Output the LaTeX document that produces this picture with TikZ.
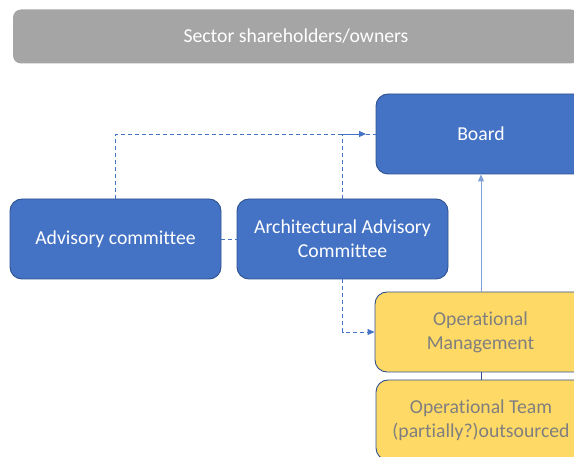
\documentclass[tikz,border=0pt]{standalone}
\usepackage{fontspec}
\setmainfont[Ligatures=NoCommon]{Carlito}
\usetikzlibrary{arrows.meta}
\definecolor{bfill}{HTML}{4472C4}
\definecolor{bdraw}{HTML}{2F528F}
\definecolor{yfill}{HTML}{FFD966}
\definecolor{gfill}{HTML}{A5A5A5}
\definecolor{ytext}{HTML}{7F7F7F}
\definecolor{lblue}{HTML}{7F9FD8}
\tikzset{
  boxbase/.style={rounded corners=12pt, line width=0.9pt, inner sep=0pt, align=center,
    font=\fontsize{19.7}{24}\selectfont},
  bluebox/.style={boxbase, fill=bfill, draw=bdraw, text=white, minimum width=211pt, minimum height=80pt},
  yellowbox/.style={boxbase, fill=yfill, draw=bdraw, text=ytext, minimum width=211pt, minimum height=80pt},
  graybox/.style={boxbase, rounded corners=8pt, fill=gfill, draw=none, text=white, minimum width=566pt, minimum height=54pt},
  dashlink/.style={draw=bfill, line width=0.9pt, dash pattern=on 4pt off 3pt},
  arr/.style={-{Triangle[length=7pt,width=6pt]}},
}
\begin{document}
\begin{tikzpicture}[x=1pt,y=-1pt]
\useasboundingbox (0,0) rectangle (574,457);
\clip (0,0) rectangle (574,457);
\node[graybox] (owners) at (296,36.5) {Sector shareholders/owners};
\node[bluebox, minimum width=210pt] (board) at (481,134) {\raisebox{-1pt}{Board}};
\node[bluebox] (adv) at (115.5,239) {\raisebox{-1pt}{Advisory committee}};
\node[bluebox] (aac) at (342.5,239) {Architectural Advisory\\Committee};
\node[yellowbox] (opm) at (480.5,332) {Operational\\Management};
\node[yellowbox, minimum width=210pt] (opt) at (481,420) {Operational Team\\(partially?)outsourced};
\coordinate (jn) at (366,134);
% connectors
\draw[dashlink] (adv.north) |- (board.west);
\draw[dashlink, arr] (aac.north) |- (jn);
\draw[dashlink] (adv.east) -- (aac.west);
\draw[dashlink, arr] (aac.south) |- (opm.west);
\draw[draw=lblue, line width=0.9pt, arr] (opm.north -| board.south) -- (board.south);
\draw[draw=bdraw, line width=0.8pt] (opm.south -| opt.north) -- (opt.north);
\end{tikzpicture}
\end{document}
